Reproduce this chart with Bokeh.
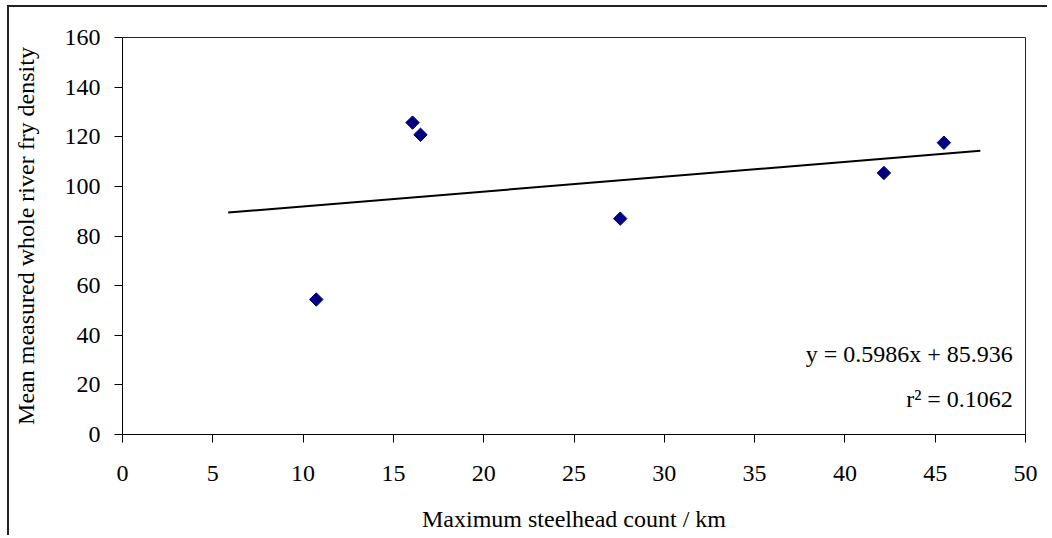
from bokeh.plotting import figure
from bokeh.models import Range1d, FixedTicker, Label, ColumnDataSource
from bokeh.embed import file_html
from bokeh.resources import INLINE
import math

# Data
steelhead = [10.73, 16.06, 16.5, 27.56, 42.16, 45.48]
fry_density = [54.4, 125.7, 120.8, 87.0, 105.4, 117.6]

# Linear trendline (as printed on the chart)
slope = 0.5986
intercept = 85.936
r_squared = 0.1062
trend_x = [5.85, 47.5]
trend_y = [slope * x + intercept for x in trend_x]

x_ticks = list(range(0, 55, 5))
y_ticks = list(range(0, 180, 20))

FONT = "Liberation Serif"

p = figure(width=1040, height=530, output_backend="svg", toolbar_location=None,
           x_range=Range1d(0, 50), y_range=Range1d(0, 160),
           min_border_left=112, min_border_top=30, min_border_right=24,
           min_border_bottom=103)
p.styles = {"margin-left": "7px", "margin-top": "5px",
            "border-left": "2px solid #222", "border-top": "2px solid #222"}
p.background_fill_color = "white"
p.border_fill_color = "white"
p.outline_line_color = "#222222"
p.outline_line_width = 1
p.xgrid.visible = False
p.ygrid.visible = False

for ax in (p.xaxis[0], p.yaxis[0]):
    ax.axis_line_color = "black"
    ax.major_tick_line_color = "black"
    ax.major_tick_in = 0
    ax.major_tick_out = 8
    ax.minor_tick_line_color = None
    ax.major_label_text_font = FONT
    ax.major_label_text_font_size = "24px"
    ax.major_label_text_color = "black"
    ax.axis_label_text_font = FONT
    ax.axis_label_text_font_size = "24px"
    ax.axis_label_text_font_style = "normal"
    ax.axis_label_text_color = "black"

p.xaxis.ticker = FixedTicker(ticks=x_ticks)
p.yaxis.ticker = FixedTicker(ticks=y_ticks)
p.xaxis.major_label_standoff = 23
p.yaxis.major_label_standoff = 14
p.xaxis.axis_label = "Maximum steelhead count / km"
p.yaxis.axis_label = "Mean measured whole river fry density"
p.xaxis.axis_label_standoff = 22
p.yaxis.axis_label_standoff = 23

src = ColumnDataSource(dict(x=steelhead, y=fry_density))
p.line(trend_x, trend_y, line_color="black", line_width=2)
p.scatter("x", "y", source=src, marker="square", size=9.5, angle=math.pi / 4,
          fill_color="#000080", line_color="#000080")

eq = Label(x=49.3, y=32.3, text=f"y = {slope}x + {intercept}", text_font=FONT,
           text_font_size="24px", text_align="right", text_baseline="middle",
           text_color="black")
r2 = Label(x=49.3, y=14.5, text=f"r² = {r_squared}", text_font=FONT,
           text_font_size="24px", text_align="right", text_baseline="middle",
           text_color="black")
p.add_layout(eq)
p.add_layout(r2)

open("out.html", "w").write(file_html(p, INLINE))
